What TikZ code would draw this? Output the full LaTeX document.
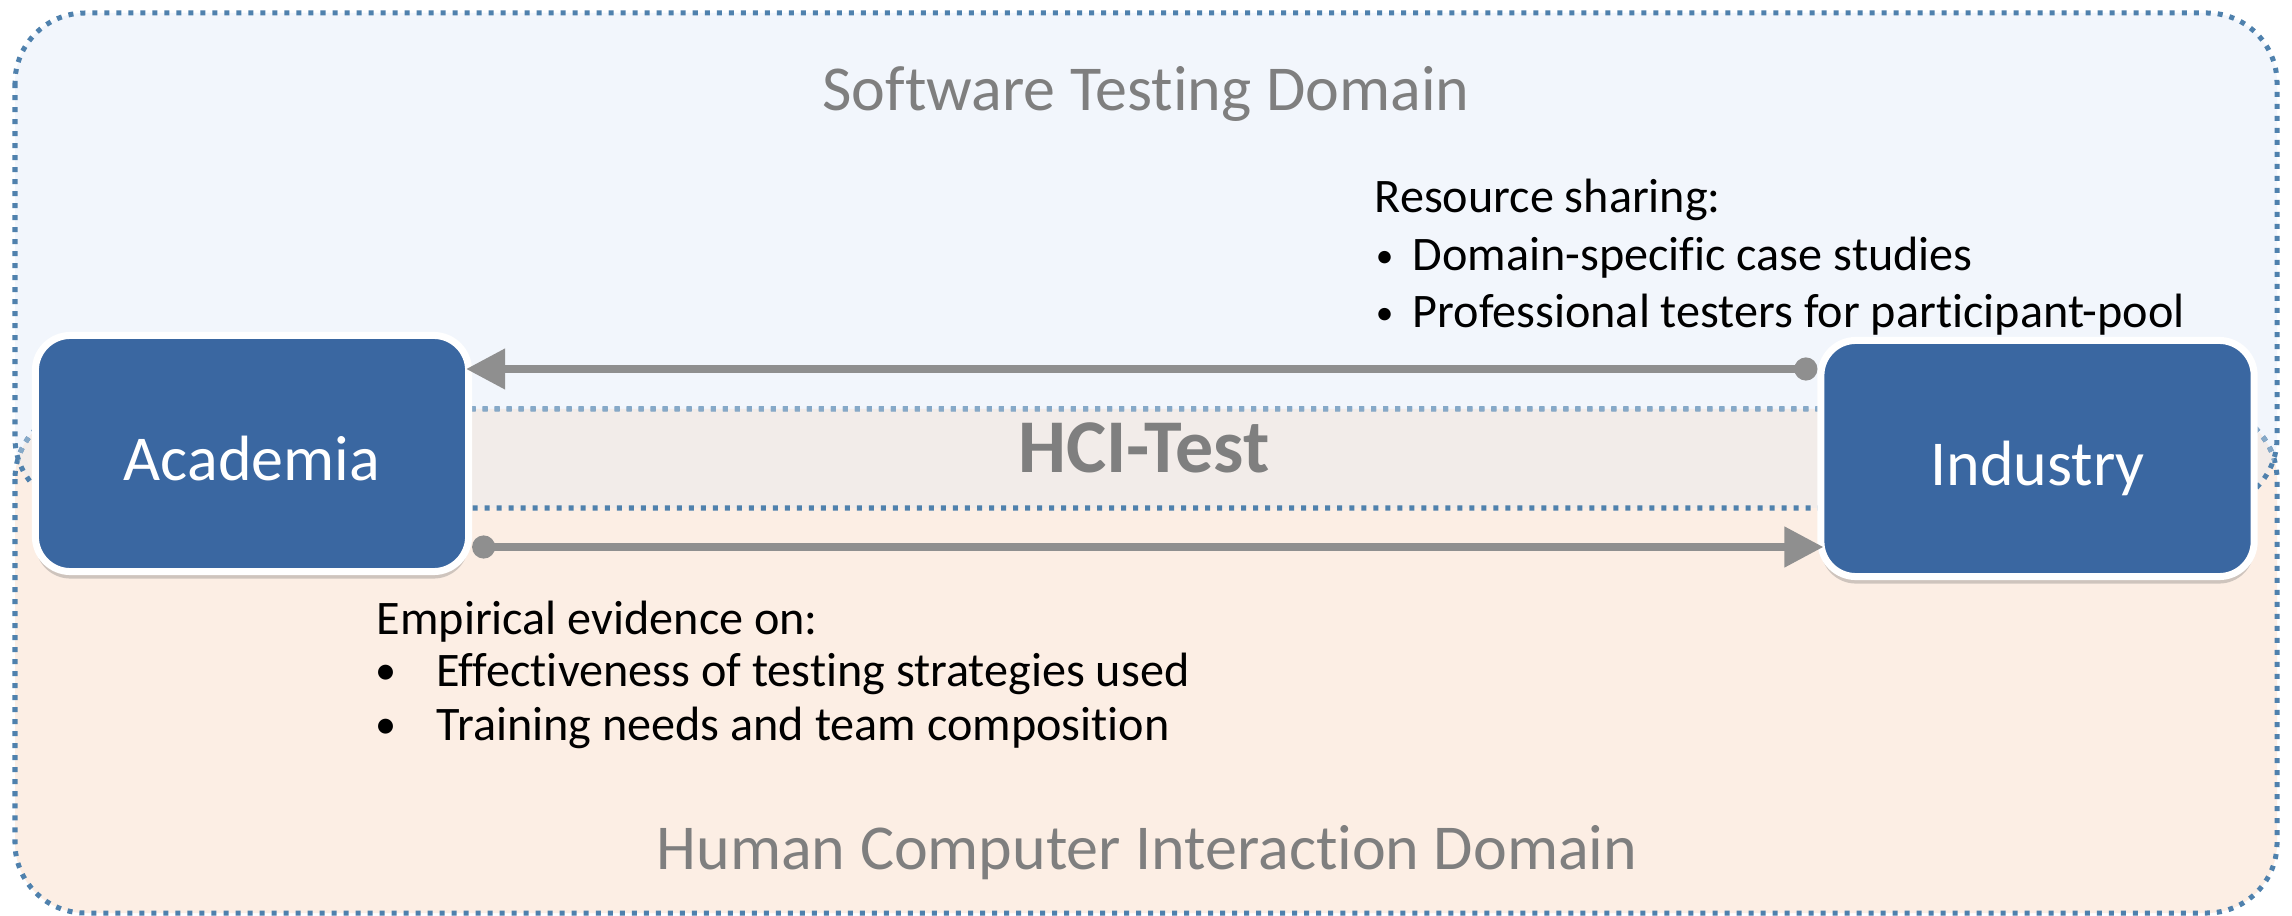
\documentclass[tikz,border=0pt]{standalone}
\usepackage{fontspec}
\setmainfont{Carlito}[Ligatures=CommonOff]
\usepackage{xcolor}
\usepackage{tikz}
\usetikzlibrary{arrows.meta,positioning,shadows}

\definecolor{stfill}{HTML}{F2F6FC}
\definecolor{hcifill}{HTML}{FCEEE4}
\definecolor{bandfill}{HTML}{F2ECE9}
\definecolor{domline}{HTML}{4F81AD}
\definecolor{domlight}{HTML}{86A9C8}
\definecolor{partyblue}{HTML}{3A67A1}
\definecolor{flowgrey}{HTML}{8F8F8F}
\definecolor{titlegrey}{HTML}{7F7F7F}

% bullets hanging left of the item text
\newcommand{\tightbullet}{\llap{\makebox[0.56cm][c]{\fontsize{10}{10}\selectfont\raisebox{1.1pt}{•}}}}
\newcommand{\tabbullet}{\llap{\makebox[1.02cm][c]{\fontsize{12}{12}\selectfont\raisebox{0.5pt}{•}}}}

\begin{document}
\begin{tikzpicture}[x=0.01cm, y=-0.01cm]
	\tikzset{realmline/.style = {line width=0.05cm, dash pattern=on 0.05cm off 0.07cm, rounded corners=0.7cm}}
	\tikzset{party/.style = {draw=white, line width=0.07cm, fill=partyblue, rounded corners=0.35cm,
		minimum width=4.33cm, minimum height=2.36cm, text height=0.53cm, text depth=0cm,
		text=white, font=\fontsize{18.2}{22}\selectfont,
		drop shadow={shadow xshift=0cm, shadow yshift=-0.07cm, opacity=0.3, fill=black!60}}}
	\tikzset{title/.style = {anchor=base, text=titlegrey, font=\fontsize{18.2}{22}\selectfont}}
	\tikzset{notes/.style = {anchor=base west, inner sep=0pt, font=\fontsize{13.7}{16}\selectfont}}
	\tikzset{flow/.style = {draw=flowgrey, line width=0.077cm, shorten >=-0.06cm,
		{Circle[length=0.23cm]}-{Triangle[length=0.39cm, width=0.39cm]}}}

	\useasboundingbox (0,0) rectangle (2292,916);
	\fill[white] (0,0) rectangle (2292,916);

	% the two domains and their overlap
	\fill[hcifill, rounded corners=0.7cm] (15,409) rectangle (2277,913);
	\fill[stfill, rounded corners=0.7cm] (15,13) rectangle (2277,508);
	\begin{scope}
		\clip[rounded corners=0.7cm] (15,409) rectangle (2277,913);
		\fill[bandfill, rounded corners=0.7cm] (15,13) rectangle (2277,508);
	\end{scope}
	\draw[realmline, domline] (15,409) rectangle (2277,913);
	\begin{scope}
		\clip[rounded corners=0.7cm] (15,13) rectangle (2277,508);
		\draw[realmline, domlight] (15,409) rectangle (2277,913);
	\end{scope}
	\draw[realmline, domline] (15,13) rectangle (2277,508);

	\node[title] (st) at (1146,111) {Software Testing Domain};
	\node[title, font=\bfseries\fontsize{21.6}{25}\selectfont] (hcitest) at (1144,473) {HCI-Test};
	\node[title] (hci) at (1147,869) {Human Computer Interaction Domain};

	\node[party] (aca) at (252,453.5) {Academia};
	\node[party] (ind) at (2037.5,458.5) {Industry};

	\draw[flow] (ind.west |- 0,369) -- (aca.east |- 0,369);
	\draw[flow] (aca.east |- 0,547) -- (ind.west |- 0,547);

	% what each side gives
	\node[notes] (share) at (1374,213) {Resource sharing:};
	\node[notes] (share1) at (1412,271) {\tightbullet Domain-specific case studies};
	\node[notes] (share2) at (1412,328) {\tightbullet Professional testers for participant-pool};

	\node[notes] (evid) at (376,634) {Empirical evidence on:};
	\node[notes] (evid1) at (436,686) {\tabbullet Effectiveness of testing strategies used};
	\node[notes] (evid2) at (436,740) {\tabbullet Training needs and team composition};

\end{tikzpicture}
\end{document}
